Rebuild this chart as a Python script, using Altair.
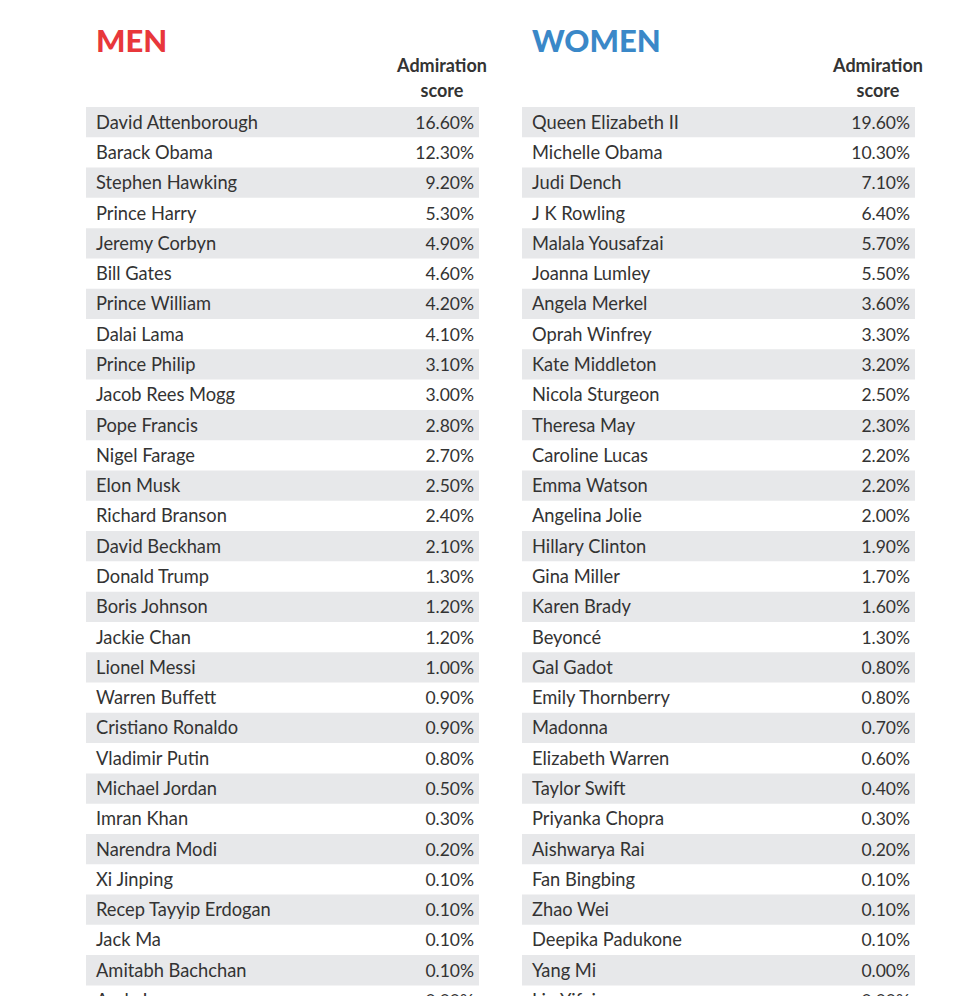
import altair as alt
import pandas as pd

sides = ["MEN", "WOMEN"]
title_colors = ["#e8373b", "#3a88c8"]

men_names = ["David Attenborough", "Barack Obama", "Stephen Hawking", "Prince Harry",
             "Jeremy Corbyn", "Bill Gates", "Prince William", "Dalai Lama", "Prince Philip",
             "Jacob Rees Mogg", "Pope Francis", "Nigel Farage", "Elon Musk", "Richard Branson",
             "David Beckham", "Donald Trump", "Boris Johnson", "Jackie Chan", "Lionel Messi",
             "Warren Buffett", "Cristiano Ronaldo", "Vladimir Putin", "Michael Jordan",
             "Imran Khan", "Narendra Modi", "Xi Jinping", "Recep Tayyip Erdogan", "Jack Ma",
             "Amitabh Bachchan", "Andy Lau"]
men_values = [16.6, 12.3, 9.2, 5.3, 4.9, 4.6, 4.2, 4.1, 3.1, 3.0, 2.8, 2.7, 2.5, 2.4, 2.1,
              1.3, 1.2, 1.2, 1.0, 0.9, 0.9, 0.8, 0.5, 0.3, 0.2, 0.1, 0.1, 0.1, 0.1, 0.0]

women_names = ["Queen Elizabeth II", "Michelle Obama", "Judi Dench", "J K Rowling",
               "Malala Yousafzai", "Joanna Lumley", "Angela Merkel", "Oprah Winfrey",
               "Kate Middleton", "Nicola Sturgeon", "Theresa May", "Caroline Lucas",
               "Emma Watson", "Angelina Jolie", "Hillary Clinton", "Gina Miller", "Karen Brady",
               "Beyoncé", "Gal Gadot", "Emily Thornberry", "Madonna", "Elizabeth Warren",
               "Taylor Swift", "Priyanka Chopra", "Aishwarya Rai", "Fan Bingbing", "Zhao Wei",
               "Deepika Padukone", "Yang Mi", "Liu Yifei"]
women_values = [19.6, 10.3, 7.1, 6.4, 5.7, 5.5, 3.6, 3.3, 3.2, 2.5, 2.3, 2.2, 2.2, 2.0, 1.9,
                1.7, 1.6, 1.3, 0.8, 0.8, 0.7, 0.6, 0.4, 0.3, 0.2, 0.1, 0.1, 0.1, 0.0, 0.0]

header_text = "Admiration\nscore"

rows = []
for side, names, values in [("MEN", men_names, men_values), ("WOMEN", women_names, women_values)]:
    for i, (n, v) in enumerate(zip(names, values)):
        rows.append({"side": side, "rank": i, "name": n, "label": f"{v:.2f}%",
                     "stripe": i % 2 == 0})
df = pd.DataFrame(rows)
titles = pd.DataFrame({"side": sides, "title": sides, "header": [header_text] * 2})

FONT = "Lato"
TXT = "#333333"
n_rows = len(men_names)
row_h = 30.29

xscale = alt.Scale(domain=sides, paddingInner=0.0986, paddingOuter=0)
yscale = alt.Scale(domain=list(range(n_rows)), paddingInner=0, paddingOuter=0,
                   range=[0, n_rows * row_h])

base = alt.Chart(df)

bands = base.transform_filter("datum.stripe").mark_rect(color="#e7e8ea").encode(
    x=alt.X("side:N", scale=xscale, axis=None),
    y=alt.Y("rank:O", scale=yscale, axis=None),
)

names = base.mark_text(align="left", baseline="middle", dx=10, dy=1.5, font=FONT,
                       fontSize=18.3, color=TXT).encode(
    x=alt.X("side:N", scale=xscale, axis=None, bandPosition=0),
    y=alt.Y("rank:O", scale=yscale, axis=None),
    text="name:N",
)

vals = base.mark_text(align="right", baseline="middle", dx=-5, dy=1.5, font=FONT,
                      fontSize=17.5, color=TXT).encode(
    x=alt.X("side:N", scale=xscale, axis=None, bandPosition=1),
    y=alt.Y("rank:O", scale=yscale, axis=None),
    text="label:N",
)

title_marks = alt.Chart(titles).mark_text(align="left", baseline="alphabetic", dx=10,
                                          font=FONT, fontSize=31, fontWeight=900).encode(
    x=alt.X("side:N", scale=xscale, axis=None, bandPosition=0),
    y=alt.value(-55),
    text="title:N",
    color=alt.Color("side:N", scale=alt.Scale(domain=sides, range=title_colors), legend=None),
)

header_marks = alt.Chart(titles).mark_text(align="center", baseline="middle", dx=356,
                                           font=FONT, fontSize=18, fontWeight="bold",
                                           color=TXT, lineBreak="\n", lineHeight=25).encode(
    x=alt.X("side:N", scale=xscale, axis=None, bandPosition=0),
    y=alt.value(-40),
    text="header:N",
)

chart = alt.layer(bands, names, vals, title_marks, header_marks).properties(
    width=829, height=889,
    autosize=alt.AutoSizeParams(type="none"),
    padding={"left": 78, "top": 99, "right": 30, "bottom": 0},
    background="white",
).configure_view(stroke=None)

chart.save("out.html", embed_options={"renderer": "svg", "actions": False})
